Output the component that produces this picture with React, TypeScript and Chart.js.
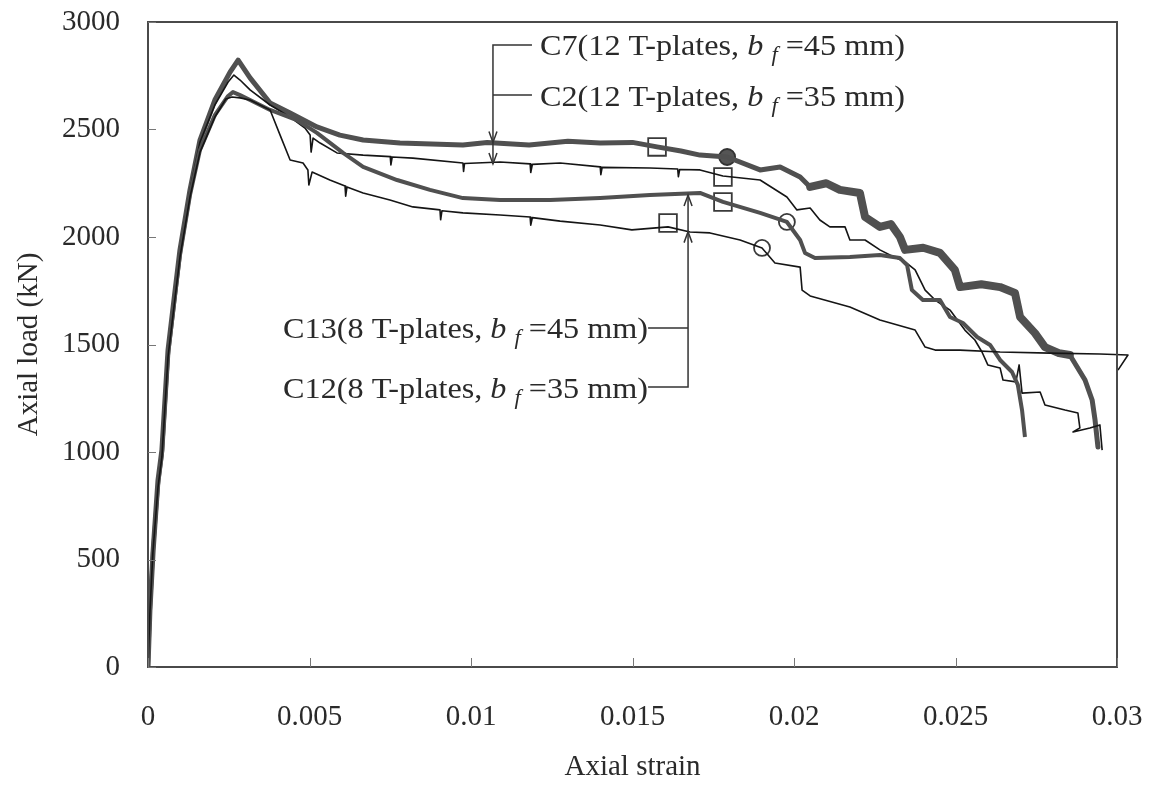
import React, { useEffect, useRef } from 'react';
import { Chart, registerables } from 'chart.js';

Chart.register(...registerables);

// ---- Axis ticks ----
const X_TICKS = [0, 0.005, 0.01, 0.015, 0.02, 0.025, 0.03];
const X_TICK_LABELS = ['0', '0.005', '0.01', '0.015', '0.02', '0.025', '0.03'];
const Y_TICKS = [0, 500, 1000, 1500, 2000, 2500, 3000];
const Y_TICK_LABELS = ['0', '500', '1000', '1500', '2000', '2500', '3000'];

// ---- Series: C7 (12 T-plates, bf = 45 mm) ----
const C7_STRAIN = [0, 0.00006, 0.00016, 0.00031, 0.00043, 0.00062, 0.00084, 0.00099, 0.0013, 0.00161, 0.00207, 0.00254, 0.00279, 0.00316, 0.00378, 0.0044, 0.00523, 0.00594, 0.00666, 0.0078, 0.00975, 0.0105, 0.0118, 0.013, 0.014, 0.015, 0.01576, 0.0165, 0.01709, 0.01793, 0.01895, 0.01957, 0.02019, 0.0205, 0.021, 0.02142, 0.02204, 0.0222, 0.02266, 0.023, 0.02328, 0.02344, 0.024, 0.02452, 0.02498, 0.02514, 0.0258, 0.02638, 0.02684, 0.027, 0.02746, 0.02777, 0.0282, 0.02854, 0.02901, 0.02923, 0.02932, 0.02941];
const C7_LOAD = [0, 265, 544, 870, 1009, 1474, 1753, 1940, 2219, 2451, 2637, 2767, 2823, 2740, 2623, 2577, 2512, 2474, 2451, 2437, 2428, 2440, 2428, 2445, 2437, 2440, 2419, 2400, 2381, 2372, 2312, 2326, 2279, 2233, 2250, 2219, 2205, 2093, 2047, 2060, 2000, 1940, 1950, 1926, 1847, 1767, 1780, 1767, 1740, 1628, 1553, 1488, 1460, 1451, 1335, 1242, 1149, 1023];

// ---- Series: C2 (12 T-plates, bf = 35 mm) ----
const C2_STRAIN = [0, 0.00006, 0.00015, 0.00031, 0.00043, 0.00062, 0.00084, 0.00099, 0.0013, 0.00161, 0.00207, 0.00248, 0.00266, 0.00285, 0.00316, 0.00378, 0.0044, 0.00486, 0.00502, 0.00505, 0.00511, 0.00533, 0.00585, 0.00666, 0.0075, 0.00752, 0.00756, 0.0082, 0.00975, 0.00977, 0.0098, 0.0109, 0.01183, 0.01185, 0.0119, 0.01276, 0.014, 0.01402, 0.01406, 0.01554, 0.0164, 0.01642, 0.01646, 0.01709, 0.0178, 0.01895, 0.01978, 0.02009, 0.0205, 0.0208, 0.02111, 0.02158, 0.02173, 0.0222, 0.02266, 0.02297, 0.02344, 0.02375, 0.02406, 0.02437, 0.02483, 0.02529, 0.0256, 0.02582, 0.026, 0.02638, 0.02647, 0.02687, 0.02697, 0.02706, 0.02762, 0.02777, 0.02839, 0.02879, 0.02885, 0.02864, 0.02916, 0.02947, 0.02954];
const C2_LOAD = [0, 265, 544, 870, 1009, 1474, 1753, 1940, 2219, 2442, 2614, 2721, 2753, 2730, 2684, 2614, 2558, 2507, 2474, 2395, 2460, 2437, 2391, 2381, 2374, 2335, 2372, 2367, 2344, 2305, 2342, 2349, 2340, 2300, 2338, 2344, 2326, 2290, 2324, 2321, 2316, 2280, 2314, 2312, 2284, 2265, 2186, 2126, 2135, 2079, 2047, 2047, 1986, 1986, 1940, 1916, 1884, 1847, 1753, 1707, 1660, 1567, 1521, 1465, 1405, 1391, 1335, 1326, 1405, 1274, 1279, 1219, 1195, 1181, 1112, 1093, 1112, 1126, 1009];

// ---- Series: C13 (8 T-plates, bf = 45 mm) ----
const C13_STRAIN = [0, 0.00006, 0.00015, 0.00031, 0.00043, 0.00062, 0.00084, 0.00099, 0.0013, 0.00161, 0.00207, 0.00248, 0.00263, 0.00285, 0.00316, 0.00378, 0.00461, 0.00523, 0.00604, 0.00666, 0.00771, 0.00873, 0.00975, 0.0109, 0.01245, 0.014, 0.01554, 0.01709, 0.0178, 0.01895, 0.01978, 0.02019, 0.02034, 0.02065, 0.02173, 0.02266, 0.02328, 0.0235, 0.02365, 0.02399, 0.02452, 0.02483, 0.02523, 0.02567, 0.02607, 0.02638, 0.02675, 0.02693, 0.02706, 0.02715];
const C13_LOAD = [0, 256, 530, 847, 986, 1451, 1730, 1916, 2195, 2405, 2567, 2656, 2674, 2660, 2637, 2591, 2544, 2484, 2391, 2326, 2265, 2219, 2181, 2172, 2172, 2181, 2195, 2205, 2163, 2112, 2070, 1986, 1926, 1902, 1907, 1916, 1902, 1870, 1753, 1707, 1707, 1628, 1600, 1535, 1498, 1428, 1372, 1312, 1195, 1070];

// ---- Series: C12 (8 T-plates, bf = 35 mm) ----
const C12_STRAIN = [0, 0.00006, 0.00015, 0.00031, 0.00043, 0.00062, 0.00084, 0.00099, 0.0013, 0.00161, 0.00207, 0.00241, 0.0026, 0.00285, 0.00316, 0.00378, 0.00409, 0.0044, 0.0048, 0.00495, 0.00498, 0.00508, 0.00563, 0.0061, 0.00612, 0.00616, 0.00666, 0.00749, 0.0082, 0.00904, 0.00906, 0.0091, 0.00975, 0.0109, 0.01183, 0.01185, 0.0119, 0.01276, 0.014, 0.01498, 0.0161, 0.01678, 0.0174, 0.01833, 0.01901, 0.01941, 0.02019, 0.02025, 0.0205, 0.02173, 0.02266, 0.02375, 0.02406, 0.02437, 0.02514, 0.02638, 0.02793, 0.02947, 0.03034, 0.03003];
const C12_LOAD = [0, 256, 530, 837, 977, 1442, 1721, 1907, 2186, 2395, 2558, 2642, 2651, 2647, 2637, 2591, 2474, 2358, 2344, 2312, 2242, 2302, 2265, 2237, 2190, 2232, 2205, 2172, 2140, 2126, 2080, 2122, 2112, 2102, 2093, 2055, 2090, 2074, 2056, 2033, 2047, 2023, 2019, 1986, 1949, 1879, 1860, 1753, 1726, 1674, 1614, 1567, 1488, 1474, 1474, 1465, 1460, 1456, 1451, 1381];

// ---- Markers (squares and circles) ----
const SQUARE_STRAIN = [0.01576, 0.0178, 0.0178, 0.0161];
const SQUARE_LOAD = [2419, 2279, 2163, 2065];
const CIRCLE_OPEN_STRAIN = [0.01978, 0.01901];
const CIRCLE_OPEN_LOAD = [2070, 1949];
const CIRCLE_FILLED_STRAIN = [0.01793];
const CIRCLE_FILLED_LOAD = [2372];

// ---- Annotation labels ----
const LABEL_NAMES = ['C7', 'C2', 'C13', 'C12'];
const LABEL_PLATES = ['12', '12', '8', '8'];
const LABEL_BF = ['45', '35', '45', '35'];

const FONT = '"Liberation Serif", "Times New Roman", serif';
const GRAY = '#505050';
const BLACK = '#151515';

const pts = (xs: number[], ys: number[]) => xs.map((x, i) => ({ x, y: ys[i] }));

function drawLabel(ctx: CanvasRenderingContext2D, idx: number, x: number, baseline: number, alignRight: boolean, targetW: number) {
  const size = 30;
  const segs = [
    { t: `${LABEL_NAMES[idx]}(${LABEL_PLATES[idx]} T-plates, `, it: false, sub: false },
    { t: 'b', it: true, sub: false },
    { t: ' ', it: false, sub: false },
    { t: 'f', it: true, sub: true },
    { t: ' =' + LABEL_BF[idx] + ' mm)', it: false, sub: false },
  ];
  const fontFor = (s: any) => `${s.it ? 'italic ' : ''}${s.sub ? Math.round(size * 0.7) : size}px ${FONT}`;
  let total = 0;
  const widths: number[] = [];
  for (const s of segs) {
    ctx.font = fontFor(s);
    const w = ctx.measureText(s.t).width;
    widths.push(w);
    total += w;
  }
  const k = targetW / total;
  ctx.save();
  const startX = alignRight ? x - targetW : x;
  ctx.translate(startX, baseline);
  ctx.scale(k, 1);
  ctx.fillStyle = '#2a2a2a';
  ctx.textBaseline = 'alphabetic';
  ctx.textAlign = 'left';
  let cx = 0;
  segs.forEach((s, i) => {
    ctx.font = fontFor(s);
    ctx.fillText(s.t, cx, s.sub ? 6 : 0);
    cx += widths[i];
  });
  ctx.restore();
}

function arrow(ctx: CanvasRenderingContext2D, x: number, tipY: number, dir: number) {
  // dir = 1: pointing down, -1: pointing up
  ctx.beginPath();
  ctx.moveTo(x - 4, tipY - dir * 11);
  ctx.lineTo(x, tipY);
  ctx.lineTo(x + 4, tipY - dir * 11);
  ctx.stroke();
}

const overlayPlugin = {
  id: 'overlay',
  afterDraw(chart: any) {
    const { ctx, chartArea, scales } = chart;
    const xs = scales.x;
    const ys = scales.y;
    ctx.save();
    // frame
    ctx.strokeStyle = '#4a4a4a';
    ctx.lineWidth = 2;
    ctx.strokeRect(chartArea.left, chartArea.top, chartArea.right - chartArea.left, chartArea.bottom - chartArea.top);
    // inward tick marks
    ctx.lineWidth = 1;
    ctx.strokeStyle = '#777';
    X_TICKS.forEach((v) => {
      const px = Math.round(xs.getPixelForValue(v)) + 0.5;
      ctx.beginPath();
      ctx.moveTo(px, chartArea.bottom);
      ctx.lineTo(px, chartArea.bottom - 9);
      ctx.stroke();
    });
    Y_TICKS.forEach((v) => {
      const py = Math.round(ys.getPixelForValue(v)) + 0.5;
      ctx.beginPath();
      ctx.moveTo(chartArea.left, py);
      ctx.lineTo(chartArea.left + 8, py);
      ctx.stroke();
    });

    // leader lines
    ctx.strokeStyle = '#333';
    ctx.lineWidth = 1.5;
    const vx1 = xs.getPixelForValue(0.01068);
    const yC7lab = ys.getPixelForValue(2893);
    const yC2lab = ys.getPixelForValue(2660);
    const tipC7 = ys.getPixelForValue(2440);
    const tipC2 = ys.getPixelForValue(2340);
    ctx.beginPath();
    ctx.moveTo(vx1 + 39, yC7lab);
    ctx.lineTo(vx1, yC7lab);
    ctx.lineTo(vx1, tipC2);
    ctx.moveTo(vx1 + 39, yC2lab);
    ctx.lineTo(vx1, yC2lab);
    ctx.stroke();
    arrow(ctx, vx1, tipC7, 1);
    arrow(ctx, vx1, tipC2, 1);

    const vx2 = xs.getPixelForValue(0.01672);
    const yC13lab = ys.getPixelForValue(1577);
    const yC12lab = ys.getPixelForValue(1302);
    const tipC13 = ys.getPixelForValue(2195);
    const tipC12 = ys.getPixelForValue(2025);
    ctx.beginPath();
    ctx.moveTo(vx2 - 40, yC13lab);
    ctx.lineTo(vx2, yC13lab);
    ctx.moveTo(vx2 - 40, yC12lab);
    ctx.lineTo(vx2, yC12lab);
    ctx.lineTo(vx2, tipC13);
    ctx.stroke();
    arrow(ctx, vx2, tipC13, -1);
    arrow(ctx, vx2, tipC12, -1);

    // labels
    drawLabel(ctx, 0, vx1 + 47, yC7lab + 10, false, 365);
    drawLabel(ctx, 1, vx1 + 47, yC2lab + 11, false, 365);
    drawLabel(ctx, 2, vx2 - 40, yC13lab + 10, true, 365);
    drawLabel(ctx, 3, vx2 - 40, yC12lab + 11, true, 365);
    ctx.restore();
  },
};

export default function App() {
  const ref = useRef<HTMLCanvasElement | null>(null);
  useEffect(() => {
    if (!ref.current) return;
    const lineDs = (label: string, xs: number[], ys: number[], color: string, width: number, extra: any = {}) => ({
      label,
      data: pts(xs, ys),
      showLine: true,
      borderColor: color,
      backgroundColor: color,
      borderWidth: width,
      pointRadius: 0,
      pointHoverRadius: 0,
      tension: 0,
      borderJoinStyle: 'round' as const,
      ...extra,
    });
    const chart = new Chart(ref.current, {
      type: 'scatter',
      data: {
        datasets: [
          lineDs('C12', C12_STRAIN, C12_LOAD, BLACK, 1.6, { clip: false }),
          lineDs('C13', C13_STRAIN, C13_LOAD, GRAY, 4),
          lineDs('C2', C2_STRAIN, C2_LOAD, BLACK, 1.6),
          lineDs('C7', C7_STRAIN, C7_LOAD, GRAY, 5, {
            borderCapStyle: 'round',
            segment: { borderWidth: (c: any) => (c.p0.parsed.x >= 0.0205 && c.p1.parsed.x <= 0.0286 ? 8 : 5) },
          }),
          {
            label: 'squares',
            data: pts(SQUARE_STRAIN, SQUARE_LOAD),
            showLine: false,
            pointStyle: 'rect',
            pointRadius: 12.5,
            pointBorderColor: '#3a3a3a',
            pointBackgroundColor: 'rgba(0,0,0,0)',
            pointBorderWidth: 1.8,
          } as any,
          {
            label: 'circles',
            data: pts(CIRCLE_OPEN_STRAIN, CIRCLE_OPEN_LOAD),
            showLine: false,
            pointStyle: 'circle',
            pointRadius: 8,
            pointBorderColor: '#3a3a3a',
            pointBackgroundColor: 'rgba(0,0,0,0)',
            pointBorderWidth: 1.8,
          } as any,
          {
            label: 'circleFilled',
            data: pts(CIRCLE_FILLED_STRAIN, CIRCLE_FILLED_LOAD),
            showLine: false,
            pointStyle: 'circle',
            pointRadius: 8,
            pointBorderColor: '#333',
            pointBackgroundColor: '#555',
            pointBorderWidth: 1.8,
          } as any,
        ],
      },
      options: {
        animation: false,
        responsive: true,
        maintainAspectRatio: false,
        events: [],
        layout: { padding: { left: 0, top: 22, right: 36, bottom: 0 } },
        plugins: { legend: { display: false }, tooltip: { enabled: false }, title: { display: false } },
        scales: {
          x: {
            type: 'linear',
            min: 0,
            max: 0.03,
            afterBuildTicks: (s: any) => { s.ticks = X_TICKS.map((v) => ({ value: v })); },
            afterFit: (s: any) => { s.height = 120; s.paddingLeft = 0; s.paddingRight = 0; },
            grid: { display: false, drawTicks: false },
            border: { display: false },
            ticks: {
              autoSkip: false,
              maxRotation: 0,
              padding: 33,
              color: '#2a2a2a',
              font: { family: FONT, size: 29 },
              callback: (_v: any, i: number) => X_TICK_LABELS[i],
            },
            title: { display: true, text: 'Axial strain', color: '#2a2a2a', font: { family: FONT, size: 29 }, padding: { top: 0, bottom: 2 } },
          },
          y: {
            type: 'linear',
            min: 0,
            max: 3000,
            afterBuildTicks: (s: any) => { s.ticks = Y_TICKS.map((v) => ({ value: v })); },
            afterFit: (s: any) => { s.width = 148; s.paddingTop = 0; s.paddingBottom = 0; },
            grid: { display: false, drawTicks: false },
            border: { display: false },
            ticks: {
              padding: 28,
              color: '#2a2a2a',
              font: { family: FONT, size: 29 },
              callback: (_v: any, i: number) => Y_TICK_LABELS[i],
            },
            title: { display: true, text: 'Axial load (kN)', color: '#2a2a2a', font: { family: FONT, size: 29 }, padding: { top: 12, bottom: 0 } },
          },
        },
      },
      plugins: [overlayPlugin],
    } as any);
    return () => chart.destroy();
  }, []);
  return (
    <div style={{ position: 'absolute', left: 0, top: 0, width: 1153, height: 787, background: '#fff' }}>
      <canvas ref={ref} />
    </div>
  );
}
